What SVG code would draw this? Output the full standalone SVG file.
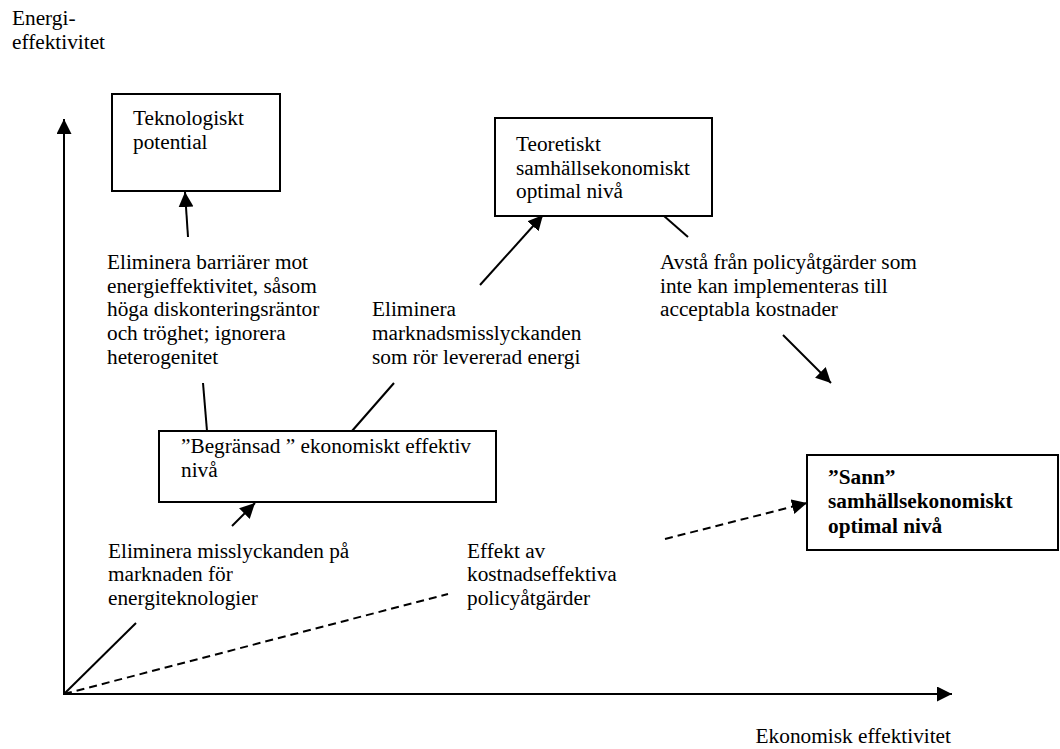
<svg xmlns="http://www.w3.org/2000/svg" width="1060" height="749" viewBox="0 0 1060 749">
<style>
text{font-family:"Liberation Serif","Times New Roman",serif;font-size:21.3px;fill:#000}
.b{font-weight:bold}
.box{fill:#fff;stroke:#000;stroke-width:2}
.ln{stroke:#000;stroke-width:2;fill:none}
.ar{marker-end:url(#ah)}
.d{stroke-dasharray:8,5}
</style>
<defs>
<marker id="ah" markerUnits="userSpaceOnUse" markerWidth="17" markerHeight="17" refX="15" refY="7.5" orient="auto">
<path d="M0,0 L15,7.5 L0,15 z" fill="#000"/>
</marker>
</defs>
<rect width="1060" height="749" fill="#fff"/>
<g id="connectors">
<line class="ln ar" x1="64" y1="694" x2="64" y2="119"/>
<line class="ln ar" x1="63" y1="694" x2="952" y2="694"/>
<line class="ln ar" x1="188" y1="237" x2="185" y2="192"/>
<line class="ln ar" x1="480" y1="285" x2="543" y2="215"/>
<line class="ln ar" x1="783" y1="335" x2="831" y2="383"/>
<line class="ln ar" x1="232" y1="526" x2="255" y2="503"/>
<line class="ln ar d" x1="665" y1="539" x2="807" y2="503"/>
<line class="ln d" x1="64" y1="694" x2="448" y2="594"/>
<line class="ln" x1="203" y1="383" x2="207" y2="431"/>
<line class="ln" x1="394" y1="383" x2="352" y2="431"/>
<line class="ln" x1="664" y1="216" x2="688" y2="237"/>
<line class="ln" x1="64" y1="694" x2="136" y2="623"/>
</g>
<g id="axis-y-label">
<text x="12" y="25">Energi-</text>
<text x="12" y="49">effektivitet</text>
</g>
<g id="axis-x-label">
<text x="951" y="743" text-anchor="end">Ekonomisk effektivitet</text>
</g>
<g id="teknologiskt">
<rect class="box" x="112" y="94" width="168" height="97"/>
<text x="133" y="125">Teknologiskt</text>
<text x="133" y="149">potential</text>
</g>
<g id="teoretiskt">
<rect class="box" x="495" y="118" width="217" height="98"/>
<text x="516" y="151">Teoretiskt</text>
<text x="516" y="175">samhällsekonomiskt</text>
<text x="516" y="198">optimal nivå</text>
</g>
<g id="begransad">
<rect class="box" x="159" y="431" width="337" height="71"/>
<text x="181" y="453">”Begränsad ” ekonomiskt effektiv</text>
<text x="181" y="477">nivå</text>
</g>
<g id="sann">
<rect class="box" x="807" y="455" width="251" height="95"/>
<text class="b" x="828" y="484">”Sann”</text>
<text class="b" x="828" y="508">samhällsekonomiskt</text>
<text class="b" x="828" y="533">optimal nivå</text>
</g>
<g id="label-barriarer">
<text x="107" y="269">Eliminera barriärer mot</text>
<text x="107" y="293">energieffektivitet, såsom</text>
<text x="107" y="316">höga diskonteringsräntor</text>
<text x="107" y="340">och tröghet; ignorera</text>
<text x="107" y="364">heterogenitet</text>
</g>
<g id="label-marknad">
<text x="372" y="316">Eliminera</text>
<text x="372" y="340">marknadsmisslyckanden</text>
<text x="372" y="364">som rör levererad energi</text>
</g>
<g id="label-avsta">
<text x="660" y="269">Avstå från policyåtgärder som</text>
<text x="660" y="293">inte kan implementeras till</text>
<text x="660" y="316">acceptabla kostnader</text>
</g>
<g id="label-misslyckanden">
<text x="108" y="558">Eliminera misslyckanden på</text>
<text x="108" y="581">marknaden för</text>
<text x="108" y="605">energiteknologier</text>
</g>
<g id="label-effekt">
<text x="467" y="558">Effekt av</text>
<text x="467" y="581">kostnadseffektiva</text>
<text x="467" y="605">policyåtgärder</text>
</g>
</svg>
